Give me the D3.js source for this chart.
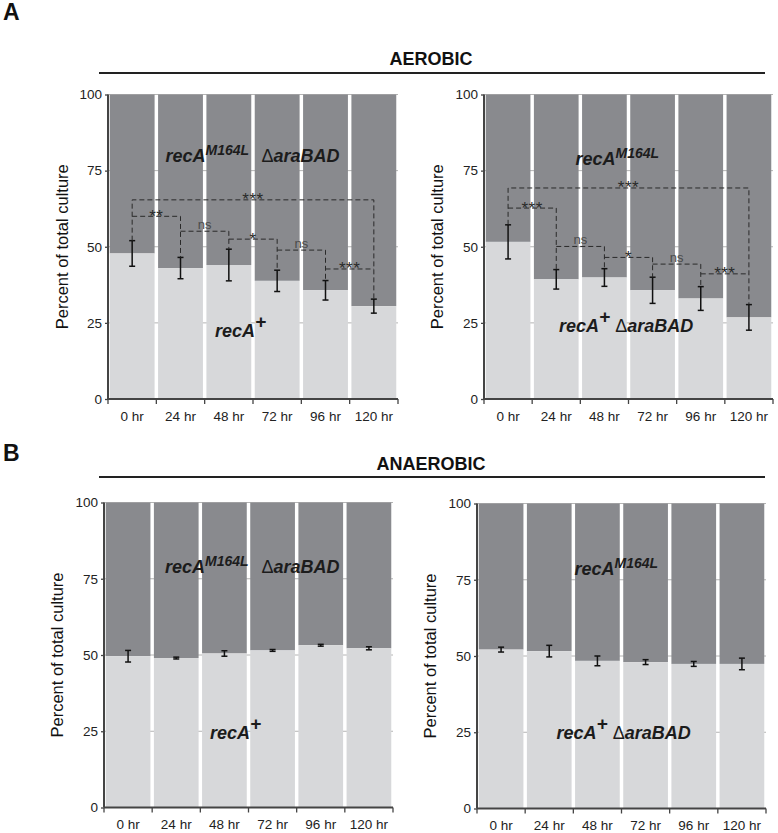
<!DOCTYPE html>
<html>
<head>
<meta charset="utf-8">
<script src="https://cdn.jsdelivr.net/npm/d3@7"></script>
<style>
  body { margin: 0; background: #fff; }
  svg { font-family: "Liberation Sans", Arial, sans-serif; }
</style>
</head>
<body>
<div id="chart-area"></div>
<script>
// data (percent of total culture, light = recA+ strain)
var hours = ["0 hr", "24 hr", "48 hr", "72 hr", "96 hr", "120 hr"];
var yTicks = [0, 25, 50, 75, 100];

var aerobicLeft = [47.8, 43.0, 44.0, 38.8, 35.7, 30.5];
var aerobicLeftErr = [4.2, 3.5, 5.2, 3.5, 3.2, 2.3];
var aerobicRight = [51.6, 39.3, 39.9, 35.7, 33.0, 26.8];
var aerobicRightErr = [5.6, 3.2, 2.9, 4.3, 3.9, 4.2];

var anaerobicLeft = [49.6, 49.0, 50.5, 51.5, 53.2, 52.2];
var anaerobicLeftErr = [1.9, 0.3, 0.9, 0.3, 0.3, 0.5];
var anaerobicRight = [52.1, 51.6, 48.4, 48.0, 47.4, 47.4];
var anaerobicRightErr = [0.8, 1.9, 1.6, 0.8, 0.8, 1.9];

// significance brackets between neighbouring time points, plus 0 hr vs 120 hr
var sigLeftLevels = [60.0, 55.1, 52.5, 48.9, 42.7];
var sigLeftLabels = ["**", "ns", "*", "ns", "***"];
var sigLeftAll = 65.4;
var sigRightLevels = [62.7, 50.1, 46.5, 44.3, 41.1];
var sigRightLabels = ["***", "ns", "*", "ns", "***"];
var sigRightAll = 69.3;

var darkGray = "#898a8e",
    lightGray = "#d7d8da";

var svg = d3.select("#chart-area")
  .append("svg")
    .attr("width", 778)
    .attr("height", 833);

// panel letters, section titles and rules
svg.append("text").attr("x", 3).attr("y", 20)
  .attr("font-size", "23px").attr("font-weight", "bold").attr("fill", "#111").text("A");
svg.append("text").attr("x", 3).attr("y", 461)
  .attr("font-size", "23px").attr("font-weight", "bold").attr("fill", "#111").text("B");

svg.append("text").attr("x", 431).attr("y", 65).attr("text-anchor", "middle")
  .attr("font-size", "18px").attr("font-weight", "bold").attr("fill", "#111").text("AEROBIC");
svg.append("line").attr("x1", 99).attr("x2", 765).attr("y1", 73).attr("y2", 73)
  .attr("stroke", "#222").attr("stroke-width", 2);

svg.append("text").attr("x", 431).attr("y", 470).attr("text-anchor", "middle")
  .attr("font-size", "18px").attr("font-weight", "bold").attr("fill", "#111").text("ANAEROBIC");
svg.append("line").attr("x1", 99).attr("x2", 765).attr("y1", 477).attr("y2", 477)
  .attr("stroke", "#222").attr("stroke-width", 2);

// italic strain label with optional superscripts
function strainLabel(g, x, y, parts) {
  var t = g.append("text")
    .attr("x", x).attr("y", y)
    .attr("font-size", "18px")
    .attr("font-weight", "bold")
    .attr("font-style", "italic")
    .attr("fill", "#1c1c1c");
  var raised = 0;
  parts.forEach(function(p) {
    var s = t.append("tspan").text(p.t);
    var shift = p.sup ? -p.sup : 0;
    if (shift !== raised) s.attr("dy", shift - raised);
    raised = shift;
    if (p.size) s.attr("font-size", p.size + "px");
    if (p.upright) s.attr("font-style", "normal").attr("font-weight", "normal");
  });
}

function drawPanel(p) {
  var g = svg.append("g");

  var x = d3.scaleBand()
    .domain(hours)
    .range([p.x0, p.x1])
    .paddingInner(0.072)
    .paddingOuter(0.036);

  var y = d3.scaleLinear()
    .domain([0, 100])
    .range([p.yBot, p.yTop]);

  var step = x.step();
  var cx = function(i) { return x(hours[i]) + x.bandwidth() / 2; };

  // gridlines (seen in the white gaps)
  g.selectAll(".grid")
    .data(yTicks.slice(1)).enter()
    .append("line")
      .attr("x1", p.x0).attr("x2", p.x1)
      .attr("y1", function(d) { return y(d); })
      .attr("y2", function(d) { return y(d); })
      .attr("stroke", "#b4b4b4")
      .attr("stroke-width", 1);

  // upper part: other strain
  g.selectAll(".top")
    .data(p.values).enter()
    .append("rect")
      .attr("x", function(d, i) { return x(hours[i]); })
      .attr("width", x.bandwidth())
      .attr("y", y(100))
      .attr("height", function(d) { return y(d) - y(100); })
      .attr("fill", darkGray);

  // lower part: recA+ strain
  g.selectAll(".bottom")
    .data(p.values).enter()
    .append("rect")
      .attr("x", function(d, i) { return x(hours[i]); })
      .attr("width", x.bandwidth())
      .attr("y", function(d) { return y(d); })
      .attr("height", function(d) { return y(0) - y(d); })
      .attr("fill", lightGray);

  p.labels.forEach(function(l) { strainLabel(g, l.x, l.y, l.parts); });

  // error bars
  var eb = g.selectAll(".err")
    .data(p.values).enter()
    .append("g")
      .attr("stroke", "#111")
      .attr("stroke-width", 1.5);
  eb.append("line")
    .attr("x1", function(d, i) { return cx(i); })
    .attr("x2", function(d, i) { return cx(i); })
    .attr("y1", function(d, i) { return y(d + p.errors[i]); })
    .attr("y2", function(d, i) { return y(d - p.errors[i]); });
  [1, -1].forEach(function(sgn) {
    eb.append("line")
      .attr("x1", function(d, i) { return cx(i) - 3; })
      .attr("x2", function(d, i) { return cx(i) + 3; })
      .attr("y1", function(d, i) { return y(d + sgn * p.errors[i]); })
      .attr("y2", function(d, i) { return y(d + sgn * p.errors[i]); });
  });

  // significance brackets
  if (p.sig) {
    var errTop = function(i) { return y(p.values[i] + p.errors[i]); };
    var last = hours.length - 1;
    var dash = function(sel) {
      return sel.attr("fill", "none").attr("stroke", "#2a2a2a")
        .attr("stroke-width", 1).attr("stroke-dasharray", "5,3");
    };
    dash(g.append("path")
      .attr("d", "M" + cx(0) + "," + errTop(0) + "V" + y(p.sig.all) +
                 "H" + cx(last) + "V" + errTop(last)));
    p.sig.levels.forEach(function(lv, i) {
      var d = "M" + cx(i) + "," + y(lv) + "H" + cx(i + 1);
      if (i + 1 < last) d += "V" + errTop(i + 1);
      dash(g.append("path").attr("d", d));
    });
    var sigText = function(lab, xm, lv) {
      var ns = lab === "ns";
      g.append("text")
        .attr("x", xm)
        .attr("y", y(lv) + (ns ? -2 : 5.5))
        .attr("text-anchor", "middle")
        .attr("font-size", ns ? "13px" : "17px")
        .attr("letter-spacing", ns ? 0 : "0.5px")
        .attr("fill", ns ? "#4a4a4a" : "#2a2a2a")
        .text(lab);
    };
    sigText("***", (cx(0) + cx(last)) / 2, p.sig.all);
    p.sig.levels.forEach(function(lv, i) {
      sigText(p.sig.labels[i], (cx(i) + cx(i + 1)) / 2, lv);
    });
  }

  // y axis
  var yAxisCall = d3.axisLeft(y)
    .tickValues(yTicks)
    .tickSize(3)
    .tickPadding(3);
  var ya = g.append("g")
    .attr("transform", "translate(" + p.x0 + ",0)")
    .call(yAxisCall);
  ya.select(".domain").attr("stroke", "#444").attr("stroke-width", 2)
    .attr("d", "M0," + p.yBot + "V" + p.yTop);
  ya.selectAll(".tick line").attr("stroke", "#444").attr("stroke-width", 1.3);
  ya.selectAll("text").attr("font-size", "13.5px").attr("fill", "#222")
    .attr("font-family", "Liberation Sans, Arial, sans-serif");

  // x axis: labels at centres, ticks at category boundaries
  var xAxisCall = d3.axisBottom(x).tickSize(0).tickPadding(12);
  var xa = g.append("g")
    .attr("transform", "translate(0," + p.yBot + ")")
    .call(xAxisCall);
  xa.select(".domain").attr("stroke", "#444").attr("stroke-width", 2)
    .attr("d", "M" + p.x0 + ",0H" + p.x1);
  xa.selectAll("text").attr("font-size", "13.5px").attr("fill", "#222")
    .attr("font-family", "Liberation Sans, Arial, sans-serif");
  var bounds = hours.map(function(h) { return x(h) - (step - x.bandwidth()) / 2; });
  bounds.push(p.x1);
  xa.selectAll(".bound")
    .data(bounds).enter()
    .append("line")
      .attr("x1", function(d) { return d; })
      .attr("x2", function(d) { return d; })
      .attr("y1", 0).attr("y2", 5)
      .attr("stroke", "#444").attr("stroke-width", 1.3);

  // y label
  svg.append("text")
    .attr("transform", "translate(" + p.labelX + "," + ((p.yTop + p.yBot) / 2) + ") rotate(-90)")
    .attr("dy", "0.35em")
    .attr("text-anchor", "middle")
    .attr("font-size", "16.5px")
    .attr("fill", "#111")
    .text("Percent of total culture");
}

var recM = [{ t: "recA" }, { t: "M164L", sup: 7, size: 14 }];
var delta = [{ t: "\u0394", upright: true }, { t: "araBAD" }];
var recPlus = [{ t: "recA" }, { t: "+", sup: 9, size: 19 }];
var recPlusDelta = recPlus.concat([{ t: " " }], delta);

drawPanel({
  x0: 108, x1: 398, yTop: 94.5, yBot: 399, labelX: 62,
  values: aerobicLeft, errors: aerobicLeftErr,
  sig: { levels: sigLeftLevels, labels: sigLeftLabels, all: sigLeftAll },
  labels: [
    { x: 165.5, y: 162, parts: recM },
    { x: 261.5, y: 162, parts: delta },
    { x: 215, y: 336.5, parts: recPlus }
  ]
});

drawPanel({
  x0: 484, x1: 773, yTop: 94.5, yBot: 399, labelX: 437,
  values: aerobicRight, errors: aerobicRightErr,
  sig: { levels: sigRightLevels, labels: sigRightLabels, all: sigRightAll },
  labels: [
    { x: 575.5, y: 165, parts: recM },
    { x: 559, y: 331.5, parts: recPlusDelta }
  ]
});

drawPanel({
  x0: 104, x1: 393, yTop: 502.5, yBot: 807.5, labelX: 57,
  values: anaerobicLeft, errors: anaerobicLeftErr,
  labels: [
    { x: 165, y: 572.5, parts: recM },
    { x: 261.5, y: 572.5, parts: delta },
    { x: 210, y: 738.5, parts: recPlus }
  ]
});

drawPanel({
  x0: 477, x1: 766, yTop: 503.5, yBot: 808.5, labelX: 430,
  values: anaerobicRight, errors: anaerobicRightErr,
  labels: [
    { x: 574.5, y: 574.5, parts: recM },
    { x: 556.5, y: 738.5, parts: recPlusDelta }
  ]
});
</script>
</body>
</html>
